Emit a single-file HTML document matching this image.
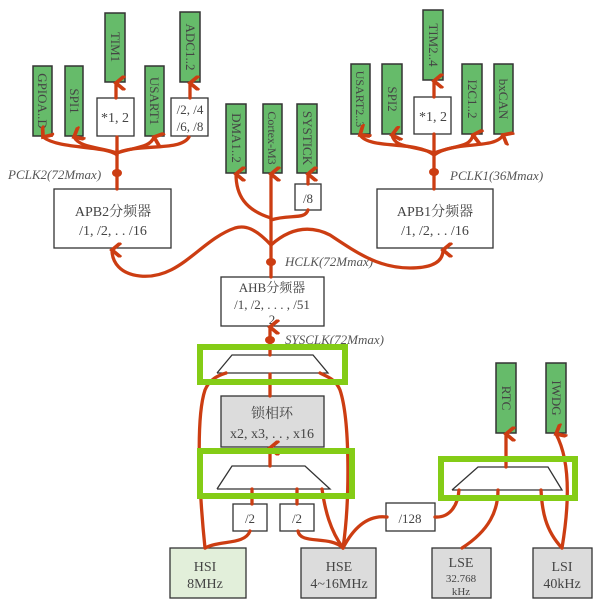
<!DOCTYPE html>
<html><head><meta charset="utf-8"><style>
html,body{margin:0;padding:0;background:#fff}
svg{display:block}
text{font-family:"Liberation Serif","Noto Serif CJK SC",serif;fill:#444}
.g{fill:#66bb6a;stroke:#333;stroke-width:1.5}
.b{fill:#fff;stroke:#333;stroke-width:1.3}
.gr{fill:#dcdcdc;stroke:#333;stroke-width:1.3}
.r{fill:none;stroke:#cc3d12;stroke-width:3.3;stroke-linecap:round}
.hl{fill:none;stroke:#84cc16;stroke-width:6}
.tz{fill:none;stroke:#333;stroke-width:1.3}
.lb{font-family:"Liberation Serif",serif;font-style:italic;font-size:13px;fill:#555}
</style></head><body>
<svg width="608" height="615" viewBox="0 0 608 615" xmlns="http://www.w3.org/2000/svg">
<defs>
<marker id="a" viewBox="0 0 10 10" refX="5" refY="3" markerWidth="4.5" markerHeight="4.5" orient="auto-start-reverse" markerUnits="strokeWidth">
<polyline points="0,9 5,3 10,9" fill="none" stroke="#cc3d12" stroke-width="2.5"/>
</marker>
</defs>
<g>
<rect class="g" x="33" y="66" width="19" height="70"/>
<rect class="g" x="65" y="66" width="18" height="70"/>
<rect class="g" x="105" y="13" width="20" height="69"/>
<rect class="g" x="145" y="66" width="19" height="70"/>
<rect class="g" x="180" y="12" width="20" height="70"/>
<rect class="g" x="226" y="104" width="20" height="69"/>
<rect class="g" x="263" y="104" width="19" height="69"/>
<rect class="g" x="297" y="104" width="20" height="69"/>
<rect class="g" x="351" y="64" width="19" height="70"/>
<rect class="g" x="382" y="64" width="20" height="70"/>
<rect class="g" x="423" y="10" width="20" height="70"/>
<rect class="g" x="462" y="64" width="20" height="70"/>
<rect class="g" x="494" y="64" width="19" height="70"/>
<rect class="g" x="496" y="363" width="20" height="70"/>
<rect class="g" x="546" y="363" width="20" height="70"/>
</g>
<g font-size="13">
<text transform="translate(38,101) rotate(90)" text-anchor="middle">GPIOA..D</text>
<text transform="translate(70,101) rotate(90)" text-anchor="middle">SPI1</text>
<text transform="translate(111,47) rotate(90)" text-anchor="middle">TIM1</text>
<text transform="translate(150,101) rotate(90)" text-anchor="middle">USART1</text>
<text transform="translate(186,47) rotate(90)" text-anchor="middle">ADC1..2</text>
<text transform="translate(232,138) rotate(90)" text-anchor="middle">DMA1..2</text>
<text transform="translate(268,138) rotate(90)" text-anchor="middle" font-size="12">Cortex-M3</text>
<text transform="translate(303,138) rotate(90)" text-anchor="middle">SYSTICK</text>
<text transform="translate(356,99) rotate(90)" text-anchor="middle" font-size="12">USART2..3</text>
<text transform="translate(388,99) rotate(90)" text-anchor="middle">SPI2</text>
<text transform="translate(429,45) rotate(90)" text-anchor="middle">TIM2..4</text>
<text transform="translate(468,99) rotate(90)" text-anchor="middle">I2C1..2</text>
<text transform="translate(499,99) rotate(90)" text-anchor="middle">bxCAN</text>
<text transform="translate(502,398) rotate(90)" text-anchor="middle">RTC</text>
<text transform="translate(552,398) rotate(90)" text-anchor="middle">IWDG</text>
</g>
<rect class="b" x="97" y="98" width="37" height="38"/>
<text x="115" y="122" font-size="14" text-anchor="middle">*1, 2</text>
<rect class="b" x="171" y="98" width="37" height="38"/>
<text x="190" y="114" font-size="13" text-anchor="middle">/2, /4</text>
<text x="190" y="131" font-size="13" text-anchor="middle">/6, /8</text>
<rect class="b" x="414" y="97" width="37" height="37"/>
<text x="433" y="121" font-size="14" text-anchor="middle">*1, 2</text>
<rect class="b" x="295" y="184" width="26" height="26"/>
<text x="308" y="203" font-size="13" text-anchor="middle">/8</text>
<rect class="b" x="54" y="189" width="117" height="59"/>
<text x="113" y="216" font-size="14" text-anchor="middle">APB2分频器</text>
<text x="113" y="235" font-size="14" text-anchor="middle">/1, /2, . . /16</text>
<rect class="b" x="377" y="189" width="116" height="59"/>
<text x="435" y="216" font-size="14" text-anchor="middle">APB1分频器</text>
<text x="435" y="235" font-size="14" text-anchor="middle">/1, /2, . . /16</text>
<rect class="b" x="221" y="277" width="103" height="49"/>
<text x="272" y="292" font-size="13" text-anchor="middle">AHB分频器</text>
<text x="272" y="309" font-size="13" text-anchor="middle">/1, /2, . . . , /51</text>
<text x="272" y="324" font-size="13" text-anchor="middle">2</text>
<rect class="gr" x="221" y="396" width="103" height="51"/>
<text x="272" y="418" font-size="14" text-anchor="middle">锁相环</text>
<text x="272" y="438" font-size="14" text-anchor="middle">x2, x3, . . , x16</text>
<rect class="b" x="233" y="504" width="34" height="27"/>
<text x="250" y="523" font-size="13" text-anchor="middle">/2</text>
<rect class="b" x="280" y="504" width="34" height="27"/>
<text x="297" y="523" font-size="13" text-anchor="middle">/2</text>
<rect class="b" x="386" y="503" width="49" height="28"/>
<text x="410" y="523" font-size="13" text-anchor="middle">/128</text>
<rect x="170" y="548" width="76" height="50" fill="#e2efda" stroke="#333" stroke-width="1.3"/>
<text x="205" y="571" font-size="14" text-anchor="middle">HSI</text>
<text x="205" y="588" font-size="14" text-anchor="middle">8MHz</text>
<rect class="gr" x="301" y="548" width="75" height="50"/>
<text x="339" y="571" font-size="14" text-anchor="middle">HSE</text>
<text x="339" y="588" font-size="14" text-anchor="middle">4~16MHz</text>
<rect class="gr" x="432" y="548" width="59" height="50"/>
<text x="461" y="567" font-size="14" text-anchor="middle">LSE</text>
<text x="461" y="582" font-size="11" text-anchor="middle">32.768</text>
<text x="461" y="595" font-size="11" text-anchor="middle">kHz</text>
<rect class="gr" x="533" y="548" width="59" height="50"/>
<text x="562" y="571" font-size="14" text-anchor="middle">LSI</text>
<text x="562" y="588" font-size="14" text-anchor="middle">40kHz</text>
<polyline class="tz" points="217,373 232,355 313,355 328,373 217,373"/>
<polyline class="tz" points="217,489 232,466 305,466 330,489 217,489"/>
<polyline class="tz" points="452,490 478,467 548,467 562,490 452,490"/>
<text class="lb" x="8" y="179">PCLK2(72Mmax)</text>
<text class="lb" x="450" y="180">PCLK1(36Mmax)</text>
<text class="lb" x="285" y="266">HCLK(72Mmax)</text>
<text class="lb" x="285" y="344">SYSCLK(72Mmax)</text>
<g class="r">
<path d="M117,189 L117,150"/>
<path d="M117,155 C105,145 60,150 43,137" marker-end="url(#a)"/>
<path d="M117,153 C100,147 80,148 74,137" marker-end="url(#a)"/>
<path d="M117,150 L117,137"/>
<path d="M117,153 C135,147 150,148 154,137" marker-end="url(#a)"/>
<path d="M117,153 C140,143 180,152 189,137"/>
<path d="M116,98 L116,83" marker-end="url(#a)"/>
<path d="M190,98 L190,83" marker-end="url(#a)"/>
<path d="M271,277 L271,174" marker-end="url(#a)"/>
<path d="M271,218 C245,210 236,195 236,174" marker-end="url(#a)"/>
<path d="M271,220 C290,214 305,220 308,210"/>
<path d="M308,184 L308,174" marker-end="url(#a)"/>
<path d="M271,245 C255,228 245,225 235,228 C200,240 180,280 140,276 C120,274 112,262 112,250" marker-end="url(#a)"/>
<path d="M271,245 C290,228 310,225 330,235 C360,255 380,268 410,268 C435,268 443,260 443,250" marker-end="url(#a)"/>
<path d="M434,189 L434,134"/>
<path d="M434,155 C415,140 370,150 360,135" marker-end="url(#a)"/>
<path d="M434,153 C410,145 395,148 392,135" marker-end="url(#a)"/>
<path d="M434,153 C455,145 470,148 473,135" marker-end="url(#a)"/>
<path d="M434,155 C455,140 495,150 503,135" marker-end="url(#a)"/>
<path d="M434,97 L434,81" marker-end="url(#a)"/>
<path d="M270,355 L270,327" marker-end="url(#a)"/>
<path d="M270,396 L270,374"/>
<path d="M270,466 L270,448" marker-end="url(#a)"/>
<path d="M205,548 C200,500 195,420 205,390 C210,378 220,375 226,373"/>
<path d="M205,548 C220,540 245,545 250,531"/>
<path d="M252,504 L252,489"/>
<path d="M297,504 L297,489"/>
<path d="M343,548 C330,535 300,545 298,531"/>
<path d="M343,548 C330,530 325,510 322,489"/>
<path d="M343,548 C350,500 350,420 340,390 C335,378 325,376 320,373"/>
<path d="M343,548 C355,525 370,515 387,517"/>
<path d="M435,517 C450,518 458,505 459,490"/>
<path d="M462,548 C490,530 498,510 498,490"/>
<path d="M562,548 C545,530 542,510 541,490"/>
<path d="M562,548 C570,500 570,460 556,434" marker-end="url(#a)"/>
<path d="M506,467 L506,434" marker-end="url(#a)"/>
</g>
<g fill="#cc3d12">
<ellipse cx="117" cy="173" rx="5" ry="4"/>
<ellipse cx="434" cy="172" rx="5" ry="4"/>
<ellipse cx="271" cy="262" rx="5" ry="4"/>
<ellipse cx="270" cy="340" rx="5" ry="4"/>
</g>
<rect class="hl" x="200" y="347" width="145" height="35"/>
<rect class="hl" x="200" y="451" width="152" height="45"/>
<rect class="hl" x="441" y="459" width="134" height="39"/>
</svg>
</body></html>
